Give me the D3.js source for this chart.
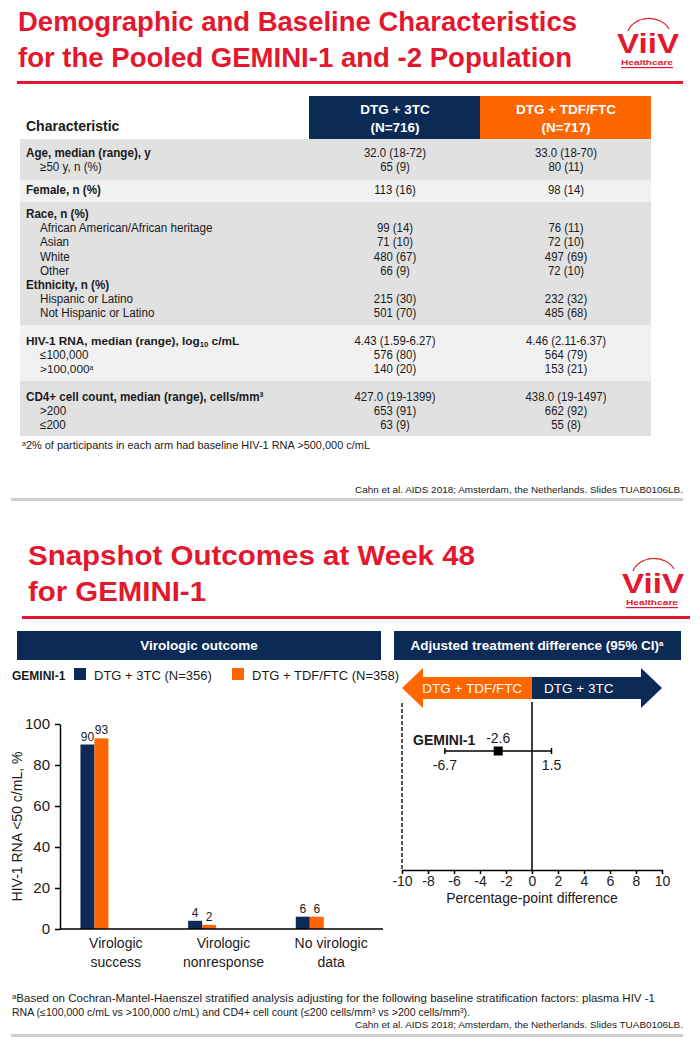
<!DOCTYPE html>
<html><head><meta charset="utf-8">
<script src="https://cdn.jsdelivr.net/npm/d3@7"></script>
<style>
html,body{margin:0;padding:0;background:#fff;}
svg{display:block;font-family:"Liberation Sans",Arial,sans-serif;}
</style></head>
<body>
<script>
// ---------- DATA ----------
const title1 = ["Demographic and Baseline Characteristics", "for the Pooled GEMINI-1 and -2 Population"];
const title2 = ["Snapshot Outcomes at Week 48", "for GEMINI-1"];
const armNames = ["DTG + 3TC", "DTG + TDF/FTC"];
const armN = ["(N=716)", "(N=717)"];
// table groups: [label, value 3TC, value TDF/FTC, level(0=bold header,1=indented)]
const groupAge = [["Age, median (range), y", "32.0 (18-72)", "33.0 (18-70)", 0], ["≥50 y, n (%)", "65 (9)", "80 (11)", 1]];
const groupFemale = [["Female, n (%)", "113 (16)", "98 (14)", 0]];
const groupRace = [["Race, n (%)", "", "", 0], ["African American/African heritage", "99 (14)", "76 (11)", 1], ["Asian", "71 (10)", "72 (10)", 1], ["White", "480 (67)", "497 (69)", 1], ["Other", "66 (9)", "72 (10)", 1], ["Ethnicity, n (%)", "", "", 0], ["Hispanic or Latino", "215 (30)", "232 (32)", 1], ["Not Hispanic or Latino", "501 (70)", "485 (68)", 1]];
const groupRNA = [["HIV-1 RNA, median (range), log|10| c/mL", "4.43 (1.59-6.27)", "4.46 (2.11-6.37)", 0], ["≤100,000", "576 (80)", "564 (79)", 1], [">100,000^a^", "140 (20)", "153 (21)", 1]];
const groupCD4 = [["CD4+ cell count, median (range), cells/mm³", "427.0 (19-1399)", "438.0 (19-1497)", 0], [">200", "653 (91)", "662 (92)", 1], ["≤200", "63 (9)", "55 (8)", 1]];
const tableFootnote = "2% of participants in each arm had baseline HIV-1 RNA >500,000 c/mL";
const citation = "Cahn et al. AIDS 2018; Amsterdam, the Netherlands. Slides TUAB0106LB.";

const outcomeCategories = [["Virologic", "success"], ["Virologic", "nonresponse"], ["No virologic", "data"]];
const seriesNames = ["DTG + 3TC (N=356)", "DTG + TDF/FTC (N=358)"];
const values3TC = [90, 4, 6];
const valuesTDF = [93, 2, 6];
const yTicks = [0, 20, 40, 60, 80, 100];

const diffLabel = "GEMINI-1";
const diffPoint = -2.6;
const diffLow = -6.7;
const diffHigh = 1.5;
const diffTicks = [-10, -8, -6, -4, -2, 0, 2, 4, 6, 8, 10];
const footnote2 = ["Based on Cochran-Mantel-Haenszel  stratified analysis adjusting for the following baseline stratification factors: plasma HIV -1",
  "RNA (≤100,000 c/mL vs >100,000 c/mL) and CD4+ cell count (≤200 cells/mm³  vs >200 cells/mm³)."];

// ---------- STYLE ----------
const RED = "#e3172d", NAVY = "#0b2a56", ORANGE = "#ff6600", DARKG = "#e1e1e1", LIGHTG = "#f1f1f1", TXT = "#1a1a1a";

const svg = d3.select("body").append("svg").attr("width", 700).attr("height", 1059);
svg.append("rect").attr("width", 700).attr("height", 1059).attr("fill", "#fff");

function fit(sel, w) { sel.attr("textLength", w).attr("lengthAdjust", "spacingAndGlyphs"); return sel; }
function condense(sel, k) { const n = sel.node(); const len = n.getComputedTextLength(); if (len > 0) fit(sel, len * k); return sel; }

function logo(x, y) {
  const g = svg.append("g").attr("transform", `translate(${x},${y})`);
  g.append("path").attr("d", "M13,9 A22,18 0 0 1 54,7").attr("fill", "none").attr("stroke", RED).attr("stroke-width", 1.2);
  fit(g.append("text").attr("x", 2).attr("y", 31).attr("fill", RED).attr("font-weight", "bold").attr("font-size", 27).text("ViiV"), 62);
  fit(g.append("text").attr("x", 6).attr("y", 43).attr("fill", RED).attr("font-weight", "bold").attr("font-size", 7.5).text("Healthcare"), 52);
  g.append("rect").attr("x", 6).attr("y", 45).attr("width", 52).attr("height", 1.2).attr("fill", RED);
}

// richer text: |sub| and ^sup^ (shift restored on the following span)
function rich(t, s, fs) {
  const parts = s.split(/(\|[^|]*\||\^[^^]*\^)/).filter(p => p.length);
  let pending = 0;
  parts.forEach(p => {
    if (p[0] === "|") { t.append("tspan").attr("font-size", fs * 0.62).attr("dy", 1.5 + pending).text(p.slice(1, -1)); pending = -1.5; }
    else if (p[0] === "^") { t.append("tspan").attr("font-size", fs * 0.55).attr("dy", -3 + pending).text(p.slice(1, -1)); pending = 3; }
    else { t.append("tspan").attr("dy", pending || null).text(p); pending = 0; }
  });
  return parts.length > 1;
}

// ---------- SLIDE 1 ----------
fit(svg.append("text").attr("x", 18).attr("y", 31).attr("fill", RED).attr("font-weight", "bold").attr("font-size", 27).text(title1[0]), 559);
fit(svg.append("text").attr("x", 18).attr("y", 67).attr("fill", RED).attr("font-weight", "bold").attr("font-size", 27).text(title1[1]), 554);
logo(615, 22);
svg.append("rect").attr("x", 17).attr("y", 81).attr("width", 666).attr("height", 3).attr("fill", RED);

const colX = [395, 566];
const hdrColors = [NAVY, ORANGE];
[0, 1].forEach(i => {
  svg.append("rect").attr("x", 309 + i * 171).attr("y", 96).attr("width", 171).attr("height", 43).attr("fill", hdrColors[i]);
  svg.append("text").attr("x", colX[i]).attr("y", 114).attr("text-anchor", "middle").attr("fill", "#fff").attr("font-weight", "bold").attr("font-size", 13.5).text(armNames[i]);
  svg.append("text").attr("x", colX[i]).attr("y", 132).attr("text-anchor", "middle").attr("fill", "#fff").attr("font-weight", "bold").attr("font-size", 13.5).text(armN[i]);
});
svg.append("text").attr("x", 26).attr("y", 131).attr("fill", TXT).attr("font-weight", "bold").attr("font-size", 14).text("Characteristic");

const groups = [groupAge, groupFemale, groupRace, groupRNA, groupCD4];
const groupTops = [139, 180, 202, 325, 381, 436];
const groupFirst = [157, 194, 218, 345, 401];
const rowH = 14.2;
groups.forEach((grp, gi) => {
  svg.append("rect").attr("x", 20).attr("y", groupTops[gi]).attr("width", 631).attr("height", groupTops[gi + 1] - groupTops[gi]).attr("fill", gi % 2 === 0 ? DARKG : LIGHTG);
  grp.forEach((r, ri) => {
    const y = groupFirst[gi] + ri * rowH;
    const t = svg.append("text").attr("x", r[3] ? 40 : 26).attr("y", y).attr("fill", TXT).attr("font-size", 12.5).attr("font-weight", r[3] ? "normal" : "bold");
    const hasShift = rich(t, r[0], 12.5);
    if (hasShift) t.attr("font-size", 11.8); else condense(t, 0.93);
    [1, 2].forEach(k => {
      if (r[k]) condense(svg.append("text").attr("x", colX[k - 1]).attr("y", y).attr("text-anchor", "middle").attr("fill", TXT).attr("font-size", 12.5).text(r[k]), 0.91);
    });
  });
});
const fn1 = svg.append("text").attr("x", 22).attr("y", 449).attr("fill", TXT).attr("font-size", 11);
fn1.append("tspan").attr("font-size", 7).attr("dy", -3).text("a");
fn1.append("tspan").attr("dy", 3).text(tableFootnote);
fit(fn1, 348);
fit(svg.append("text").attr("x", 355).attr("y", 493).attr("fill", TXT).attr("font-size", 9.9).text(citation), 328);
svg.append("rect").attr("x", 11).attr("y", 498).attr("width", 672).attr("height", 3).attr("fill", "#cccccc");

// ---------- SLIDE 2 ----------
fit(svg.append("text").attr("x", 28).attr("y", 565).attr("fill", RED).attr("font-weight", "bold").attr("font-size", 28).text(title2[0]), 447);
fit(svg.append("text").attr("x", 28).attr("y", 601).attr("fill", RED).attr("font-weight", "bold").attr("font-size", 28).text(title2[1]), 178);
logo(620, 562);
svg.append("rect").attr("x", 22).attr("y", 616).attr("width", 668).attr("height", 3).attr("fill", RED);

// panel headers
svg.append("rect").attr("x", 17).attr("y", 631).attr("width", 364).attr("height", 29).attr("fill", NAVY);
svg.append("text").attr("x", 199).attr("y", 650).attr("text-anchor", "middle").attr("fill", "#fff").attr("font-weight", "bold").attr("font-size", 13.5).text("Virologic outcome");
svg.append("rect").attr("x", 394).attr("y", 631).attr("width", 287).attr("height", 29).attr("fill", NAVY);
const h2 = svg.append("text").attr("x", 537).attr("y", 650).attr("text-anchor", "middle").attr("fill", "#fff").attr("font-weight", "bold").attr("font-size", 13.5);
h2.append("tspan").text("Adjusted treatment difference (95% CI)");
h2.append("tspan").attr("font-size", 8).attr("dy", -4).text("a");

// legend
svg.append("text").attr("x", 12).attr("y", 680).attr("font-weight", "bold").attr("font-size", 12).attr("fill", TXT).text("GEMINI-1");
const legColors = [NAVY, ORANGE];
const legX = [74, 232];
seriesNames.forEach((s, i) => {
  svg.append("rect").attr("x", legX[i]).attr("y", 668).attr("width", 12).attr("height", 12).attr("fill", legColors[i]);
  svg.append("text").attr("x", legX[i] + 20).attr("y", 680).attr("font-size", 13).attr("fill", TXT).text(s);
});

// bar chart
const bx0 = 60, bx1 = 383, by0 = 929, by1 = 724;
const y = d3.scaleLinear().domain([0, 100]).range([by0, by1]);
const x0 = d3.scaleBand().domain(d3.range(outcomeCategories.length)).range([bx0, bx1]);
const bw = x0.bandwidth();
const x1 = d3.scaleBand().domain([0, 1]).range([bw * 0.19, bw * 0.45]);
const seriesVals = [values3TC, valuesTDF];
const barG = svg.append("g");
seriesVals.forEach((vals, si) => {
  vals.forEach((v, ci) => {
    barG.append("rect").attr("x", x0(ci) + x1(si)).attr("y", y(v)).attr("width", x1.bandwidth()).attr("height", y(0) - y(v)).attr("fill", legColors[si]);
    barG.append("text").attr("x", x0(ci) + x1(si) + x1.bandwidth() / 2).attr("y", y(v) - 4).attr("text-anchor", "middle").attr("font-size", 12).attr("fill", TXT).text(v);
  });
});
const yAxis = svg.append("g").attr("transform", `translate(${bx0},0)`).call(d3.axisLeft(y).tickValues(yTicks).tickFormat(d => String(d)).tickSize(5).tickSizeOuter(0));
yAxis.select(".domain").attr("stroke", "#000").attr("stroke-width", 1.5);
yAxis.selectAll(".tick line").attr("stroke", "#000").attr("stroke-width", 1.5);
yAxis.selectAll(".tick text").attr("font-size", 15).attr("font-family", "Liberation Sans, Arial, sans-serif").attr("fill", TXT).attr("x", -10);
svg.append("line").attr("x1", bx0).attr("x2", bx1).attr("y1", by0).attr("y2", by0).attr("stroke", "#000").attr("stroke-width", 1.5);
outcomeCategories.forEach((c, ci) => {
  c.forEach((l, li) => {
    svg.append("text").attr("x", x0(ci) + bw / 2 + 2).attr("y", 948 + li * 19).attr("text-anchor", "middle").attr("font-size", 14).attr("fill", TXT).text(l);
  });
});
svg.append("text").attr("transform", `translate(22,${(by0 + by1) / 2}) rotate(-90)`).attr("text-anchor", "middle").attr("font-size", 14).attr("fill", TXT).text("HIV-1 RNA <50 c/mL, %");

// forest plot
const fx = d3.scaleLinear().domain([-10, 10]).range([402, 662]);
const fAxisY = 870;
const aMid = 688, bodyH = 11, headH = 20, headW = 21;
const leftArrow = [[fx(-10), aMid], [fx(-10) + headW, aMid - headH], [fx(-10) + headW, aMid - bodyH], [fx(0), aMid - bodyH], [fx(0), aMid + bodyH], [fx(-10) + headW, aMid + bodyH], [fx(-10) + headW, aMid + headH]];
const rightArrow = [[fx(10), aMid], [fx(10) - headW, aMid - headH], [fx(10) - headW, aMid - bodyH], [fx(0), aMid - bodyH], [fx(0), aMid + bodyH], [fx(10) - headW, aMid + bodyH], [fx(10) - headW, aMid + headH]];
svg.append("polygon").attr("points", leftArrow.map(p => p.join(",")).join(" ")).attr("fill", ORANGE);
svg.append("polygon").attr("points", rightArrow.map(p => p.join(",")).join(" ")).attr("fill", NAVY);
svg.append("text").attr("x", fx(-4.6)).attr("y", aMid + 5).attr("text-anchor", "middle").attr("fill", "#fff").attr("font-size", 13.5).text(armNames[1]);
svg.append("text").attr("x", fx(3.6)).attr("y", aMid + 5).attr("text-anchor", "middle").attr("fill", "#fff").attr("font-size", 13.5).text(armNames[0]);

svg.append("line").attr("x1", fx(-10)).attr("x2", fx(-10)).attr("y1", 703).attr("y2", fAxisY).attr("stroke", "#000").attr("stroke-width", 1.3).attr("stroke-dasharray", "4,2");
svg.append("line").attr("x1", fx(0)).attr("x2", fx(0)).attr("y1", 702).attr("y2", fAxisY).attr("stroke", "#000").attr("stroke-width", 1.5);
const fAxis = svg.append("g").attr("transform", `translate(0,${fAxisY})`).call(d3.axisBottom(fx).tickValues(diffTicks).tickFormat(d => String(d)).tickSize(4).tickPadding(2).tickSizeOuter(0));
fAxis.select(".domain").attr("stroke", "#000").attr("stroke-width", 1.5);
fAxis.selectAll(".tick line").attr("stroke", "#000").attr("stroke-width", 1.5);
fAxis.selectAll(".tick text").attr("font-size", 14).attr("font-family", "Liberation Sans, Arial, sans-serif").attr("fill", TXT).attr("dy", "0.68em");
svg.append("text").attr("x", fx(0)).attr("y", 903).attr("text-anchor", "middle").attr("font-size", 14).attr("fill", TXT).text("Percentage-point difference");

const ciY = 751;
svg.append("text").attr("x", 413).attr("y", 745).attr("font-weight", "bold").attr("font-size", 14).attr("fill", TXT).text(diffLabel);
svg.append("line").attr("x1", fx(diffLow)).attr("x2", fx(diffHigh)).attr("y1", ciY).attr("y2", ciY).attr("stroke", "#000").attr("stroke-width", 1.5);
[diffLow, diffHigh].forEach(v => svg.append("line").attr("x1", fx(v)).attr("x2", fx(v)).attr("y1", ciY - 3).attr("y2", ciY + 3).attr("stroke", "#000").attr("stroke-width", 1.5));
svg.append("rect").attr("x", fx(diffPoint) - 4.5).attr("y", ciY - 4.5).attr("width", 9).attr("height", 9).attr("fill", "#000");
svg.append("text").attr("x", fx(diffPoint)).attr("y", ciY - 8).attr("text-anchor", "middle").attr("font-size", 14).attr("fill", TXT).text(diffPoint);
svg.append("text").attr("x", fx(diffLow)).attr("y", ciY + 19).attr("text-anchor", "middle").attr("font-size", 14).attr("fill", TXT).text(diffLow);
svg.append("text").attr("x", fx(diffHigh)).attr("y", ciY + 19).attr("text-anchor", "middle").attr("font-size", 14).attr("fill", TXT).text(diffHigh);

// footnotes
const fn2 = svg.append("text").attr("x", 12).attr("y", 1002).attr("fill", TXT).attr("font-size", 10.5);
fn2.append("tspan").attr("font-size", 7).attr("dy", -3).text("a");
fn2.append("tspan").attr("dy", 3).text(footnote2[0]);
fit(fn2, 643);
fit(svg.append("text").attr("x", 12).attr("y", 1016).attr("fill", TXT).attr("font-size", 10.5).text(footnote2[1]), 458);
fit(svg.append("text").attr("x", 355).attr("y", 1028).attr("fill", TXT).attr("font-size", 9.9).text(citation), 328);
svg.append("rect").attr("x", 11).attr("y", 1034).attr("width", 672).attr("height", 3).attr("fill", "#cccccc");
</script>
</body></html>
